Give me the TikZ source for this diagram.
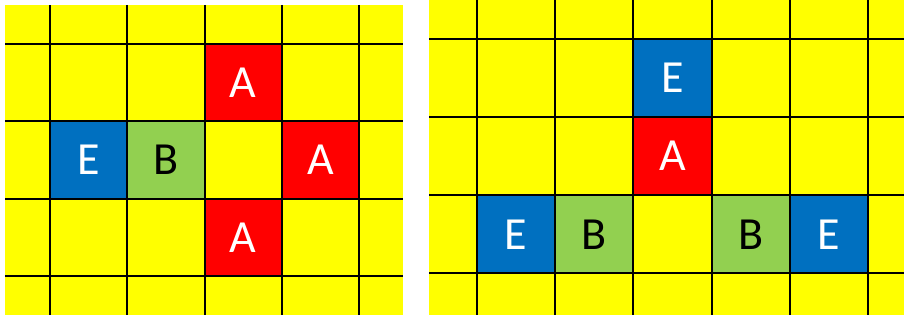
\documentclass[tikz,border=0pt]{standalone}
\usepackage{fontspec}
\setmainfont{Carlito}
\definecolor{cellyellow}{HTML}{FFFF00}
\definecolor{cellred}{HTML}{FF0000}
\definecolor{cellblue}{HTML}{0070C0}
\definecolor{cellgreen}{HTML}{92D050}
\begin{document}
\begin{tikzpicture}[x=1pt,y=-1pt,
    cell/.style={minimum size=77.6pt,inner sep=0pt,font=\fontsize{46}{46}\selectfont},
    agent/.style={cell,fill=cellred,text=white},
    empty/.style={cell,fill=cellblue,text=white},
    blocker/.style={cell,fill=cellgreen,text=black},
    gridline/.style={black,line width=2pt}]
    \useasboundingbox (0,0) rectangle (904,320);

    % Left board
    \fill[cellyellow] (5,5) rectangle (403,315);
    \node[agent]   (lAtop)    at (243.3,82.7)  {A};
    \node[empty]   (lE)       at (88.7,160.0)  {E};
    \node[blocker] (lB)       at (166.0,160.0) {B};
    \node[agent]   (lAright)  at (320.6,160.0) {A};
    \node[agent]   (lAbottom) at (243.3,237.3) {A};
    \foreach \i in {0,...,4}
        \draw[gridline] ({50+77.3*\i},5) -- ({50+77.3*\i},315);
    \foreach \j in {0,...,3}
        \draw[gridline] (5,{44+77.3*\j}) -- (403,{44+77.3*\j});

    % Right board
    \fill[cellyellow] (429,0) rectangle (904,315);
    \node[empty]   (rEtop)    at (672.5,78.1)  {E};
    \node[agent]   (rA)       at (672.5,156.2) {A};
    \node[empty]   (rEleft)   at (516.1,234.3) {E};
    \node[blocker] (rBleft)   at (594.3,234.3) {B};
    \node[blocker] (rBright)  at (750.7,234.3) {B};
    \node[empty]   (rEright)  at (828.9,234.3) {E};
    \foreach \i in {0,...,5}
        \draw[gridline] ({477+78.2*\i},0) -- ({477+78.2*\i},315);
    \foreach \j in {0,...,3}
        \draw[gridline] (429,{39+78.1*\j}) -- (904,{39+78.1*\j});
\end{tikzpicture}
\end{document}
